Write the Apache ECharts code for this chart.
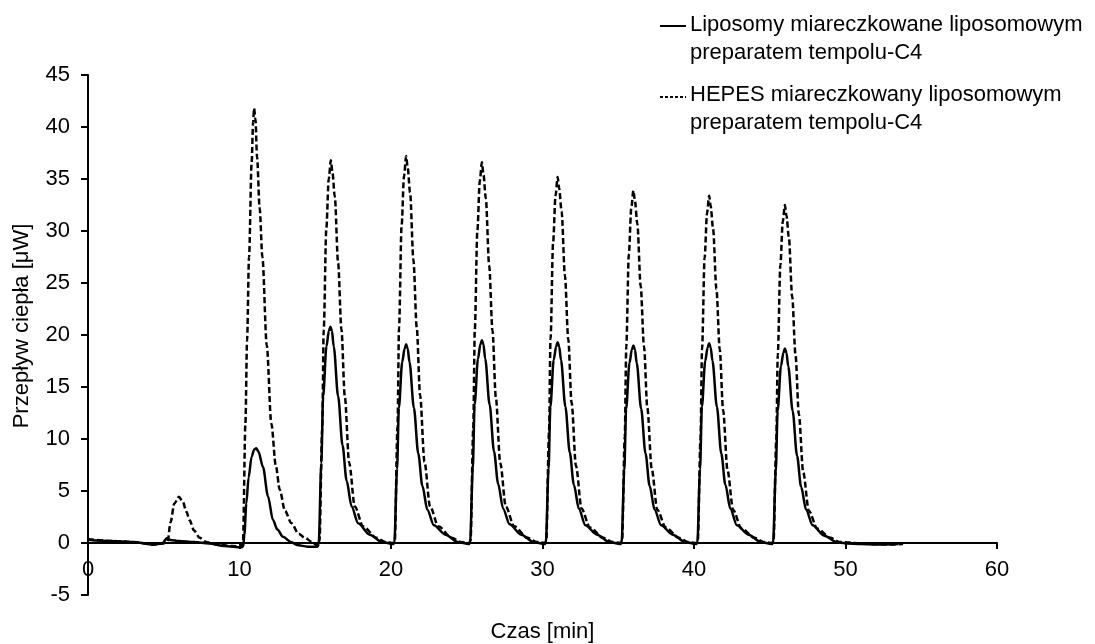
<!DOCTYPE html>
<html>
<head>
<meta charset="utf-8">
<title>Przepływ ciepła</title>
<script src="https://cdn.jsdelivr.net/npm/echarts/dist/echarts.min.js"></script>
<style>
  html, body { margin: 0; padding: 0; background: #fff; }
  #chart { width: 1095px; height: 644px; }
</style>
</head>
<body>
<div id="chart"></div>
<script>
// czas [min], przeplyw ciepla [uW]
var seriesNames = ['Liposomy miareczkowane liposomowym\npreparatem tempolu-C4',
                   'HEPES miareczkowany liposomowym\npreparatem tempolu-C4'];

var liposomy = [
  [0,0.3],[0.5,0.25],[1.5,0.2],[3,0.1],[4.3,-0.15],[4.9,-0.05],[5.2,0.45],[5.45,0.3],[6,0.2],[7,0.1],[8,-0.05],[9,-0.3],[10.15,-0.4],
  [10.25,-0.3],[10.32,0.8],[10.45,3.8],[10.6,6.3],[10.8,8.3],[10.97,9.0],[11.1,9.1],[11.25,8.8],[11.55,7.3],[11.88,4.5],[12.21,2.2],[12.5,1.3],[12.87,0.6],[13.4,0.1],[13.8,-0.2],[14.5,-0.35],[15.15,-0.35],
  [15.23,0],[15.4,7.7],[15.52,14.1],[15.74,18.9],[15.9,20.4],[16.0,20.8],[16.1,20.4],[16.22,18.9],[16.51,14.1],[16.8,9.4],[17.07,6.0],[17.4,3.5],[17.83,1.9],[18.6,0.8],[19.4,0.1],
  [20.15,-0.1],[20.22,0],[20.4,7.1],[20.52,13.0],[20.74,17.4],[20.9,18.7],[21.0,19.1],[21.1,18.7],[21.22,17.4],[21.51,13.0],[21.8,8.6],[22.07,5.5],[22.4,3.2],[22.83,1.7],[23.6,0.8],[24.4,0.1],
  [25.15,-0.1],[25.22,0],[25.4,7.2],[25.52,13.3],[25.74,17.7],[25.9,19.1],[26.0,19.5],[26.1,19.1],[26.22,17.7],[26.51,13.3],[26.8,8.8],[27.07,5.7],[27.4,3.3],[27.83,1.8],[28.6,0.8],[29.4,0.1],
  [30.15,-0.1],[30.22,0],[30.4,7.1],[30.52,13.1],[30.74,17.6],[30.9,18.9],[31.0,19.3],[31.1,18.9],[31.22,17.6],[31.51,13.1],[31.8,8.7],[32.07,5.6],[32.4,3.3],[32.83,1.7],[33.6,0.8],[34.4,0.1],
  [35.15,-0.1],[35.22,0],[35.4,7.0],[35.52,12.9],[35.74,17.3],[35.9,18.6],[36.0,19.0],[36.1,18.6],[36.22,17.3],[36.51,12.9],[36.8,8.6],[37.07,5.5],[37.4,3.2],[37.83,1.7],[38.6,0.8],[39.4,0.1],
  [40.15,-0.1],[40.22,0],[40.4,7.1],[40.52,13.1],[40.74,17.5],[40.9,18.8],[41.0,19.2],[41.1,18.8],[41.22,17.5],[41.51,13.1],[41.8,8.6],[42.07,5.6],[42.4,3.3],[42.83,1.7],[43.6,0.8],[44.4,0.1],
  [45.15,-0.1],[45.22,0],[45.4,6.9],[45.52,12.7],[45.74,17.0],[45.9,18.3],[46.0,18.7],[46.1,18.3],[46.22,17.0],[46.51,12.7],[46.8,8.4],[47.07,5.4],[47.4,3.2],[47.83,1.7],[48.6,0.7],[49.4,0.1],
  [50.1,-0.05],[51,-0.1],[52,-0.15],[53.5,-0.1]
];

var hepes = [
  [0,0.35],[0.5,0.3],[1.5,0.2],[3,0.1],[4.3,-0.15],[4.9,-0.05],[5.25,0.1],[5.45,2.0],[5.7,3.8],[6.0,4.45],[6.25,4.0],[6.5,3.0],[6.7,2.2],[7.0,1.2],[7.37,0.5],[7.8,0.1],[8.5,-0.15],[9.5,-0.3],[10.1,-0.35],
  [10.23,0.2],[10.39,11.5],[10.5,19.5],[10.63,27.5],[10.8,36.5],[10.9,40.5],[10.96,41.8],[11.05,40.8],[11.16,37.1],[11.33,32.2],[11.51,27.5],[11.8,19.0],[12.1,11.5],[12.4,7.4],[12.66,5.1],[13.0,3.1],[13.43,1.9],[13.9,0.9],[14.3,0.5],[14.8,0.1],
  [15.18,-0.3],[15.28,0.2],[15.46,11.0],[15.56,20.5],[15.73,30.2],[15.89,35.0],[16.03,36.8],[16.13,35.7],[16.29,33.3],[16.51,26.9],[16.73,20.5],[16.95,14.1],[17.24,7.7],[17.61,3.5],[18.16,1.6],[19.03,0.5],[19.63,0.1],
  [20.15,0],[20.25,0.2],[20.43,11.2],[20.53,20.7],[20.7,30.5],[20.86,35.3],[21.0,37.2],[21.1,36.1],[21.26,33.7],[21.48,27.2],[21.7,20.7],[21.92,14.2],[22.21,7.8],[22.58,3.5],[23.13,1.6],[24.0,0.5],[24.6,0.1],
  [25.15,0],[25.25,0.2],[25.43,11.0],[25.53,20.4],[25.7,30.0],[25.86,34.8],[26.0,36.6],[26.1,35.5],[26.26,33.1],[26.48,26.7],[26.7,20.4],[26.92,14.0],[27.21,7.7],[27.58,3.5],[28.13,1.6],[29.0,0.5],[29.6,0.1],
  [30.15,0],[30.25,0.2],[30.43,10.6],[30.53,19.6],[30.7,28.9],[30.86,33.4],[31.0,35.2],[31.1,34.1],[31.26,31.9],[31.48,25.7],[31.7,19.6],[31.92,13.5],[32.21,7.4],[32.58,3.3],[33.13,1.5],[34.0,0.5],[34.6,0.1],
  [35.15,0],[35.25,0.2],[35.43,10.2],[35.53,18.9],[35.7,27.8],[35.86,32.2],[36.0,33.9],[36.1,32.9],[36.26,30.7],[36.48,24.7],[36.7,18.9],[36.92,13.0],[37.21,7.1],[37.58,3.2],[38.13,1.5],[39.0,0.5],[39.6,0.1],
  [40.15,0],[40.25,0.2],[40.43,10.0],[40.53,18.6],[40.7,27.4],[40.86,31.7],[41.0,33.4],[41.1,32.4],[41.26,30.2],[41.48,24.4],[41.7,18.6],[41.92,12.8],[42.21,7.0],[42.58,3.2],[43.13,1.4],[44.0,0.5],[44.6,0.1],
  [45.15,0],[45.25,0.2],[45.43,9.8],[45.53,18.1],[45.7,26.7],[45.86,30.9],[46.0,32.5],[46.1,31.5],[46.26,29.4],[46.48,23.7],[46.7,18.1],[46.92,12.4],[47.21,6.8],[47.58,3.1],[48.13,1.4],[49.0,0.5],[49.6,0.1],
  [50.15,0.05],[51,-0.05],[52,-0.1],[53,-0.15],[53.8,-0.1]
];

var FONT = 'Liberation Sans';

var chart = echarts.init(document.getElementById('chart'), null, { renderer: 'canvas' });
chart.setOption({
    animation: false,
    backgroundColor: '#fff',
    grid: {
        left: 88,
        right: 98,
        top: 75,
        bottom: 49,
        containLabel: false,
        outerBoundsMode: 'none'
    },
    xAxis: {
        type: 'value',
        min: 0,
        max: 60,
        interval: 10,
        offset: -52, // os X na wysokosci 0 (52 px nad dolem siatki)
        name: 'Czas [min]',
        nameLocation: 'middle',
        nameGap: 78,
        nameTextStyle: { color: '#000', fontSize: 22, fontFamily: FONT },
        axisLine: { onZero: false, lineStyle: { color: '#000', width: 2 } },
        axisTick: { show: true, length: 6, lineStyle: { color: '#000', width: 2 } },
        axisLabel: { color: '#000', fontSize: 22, fontFamily: FONT, margin: 16 },
        splitLine: { show: false }
    },
    yAxis: {
        type: 'value',
        min: -5,
        max: 45,
        interval: 5,
        name: 'Przepływ ciepła [μW]',
        nameLocation: 'middle',
        nameGap: 55,
        nameTextStyle: { color: '#000', fontSize: 22, fontFamily: FONT, padding: [0, 0, 0, 18] },
        axisLine: { show: true, lineStyle: { color: '#000', width: 2 } },
        axisTick: { show: true, length: 7, lineStyle: { color: '#000', width: 2 } },
        axisLabel: { color: '#000', fontSize: 22, fontFamily: FONT, margin: 18 },
        splitLine: { show: false }
    },
    series: [
        {
            name: seriesNames[1],
            type: 'line',
            data: hepes,
            showSymbol: false,
            smooth: 0.3,
            smoothMonotone: 'x',
            lineStyle: { color: '#000', width: 2.5, type: [6, 3] }
        },
        {
            name: seriesNames[0],
            type: 'line',
            data: liposomy,
            showSymbol: false,
            smooth: 0.3,
            smoothMonotone: 'x',
            lineStyle: { color: '#000', width: 2.5, type: 'solid' }
        }
    ],
    // legenda rysowana recznie (ikona przy pierwszej linii tekstu)
    graphic: [
        { type: 'line', shape: { x1: 660, y1: 26, x2: 686, y2: 26 }, style: { stroke: '#000', lineWidth: 2 } },
        { type: 'text', x: 690, y: 11, style: { text: seriesNames[0], fill: '#000', font: '22px "Liberation Sans"', lineHeight: 28, verticalAlign: 'top' } },
        { type: 'line', shape: { x1: 660, y1: 97, x2: 686, y2: 97 }, style: { stroke: '#000', lineWidth: 2, lineDash: [3, 2] } },
        { type: 'text', x: 690, y: 81, style: { text: seriesNames[1], fill: '#000', font: '22px "Liberation Sans"', lineHeight: 28, verticalAlign: 'top' } }
    ]
});
</script>
</body>
</html>
